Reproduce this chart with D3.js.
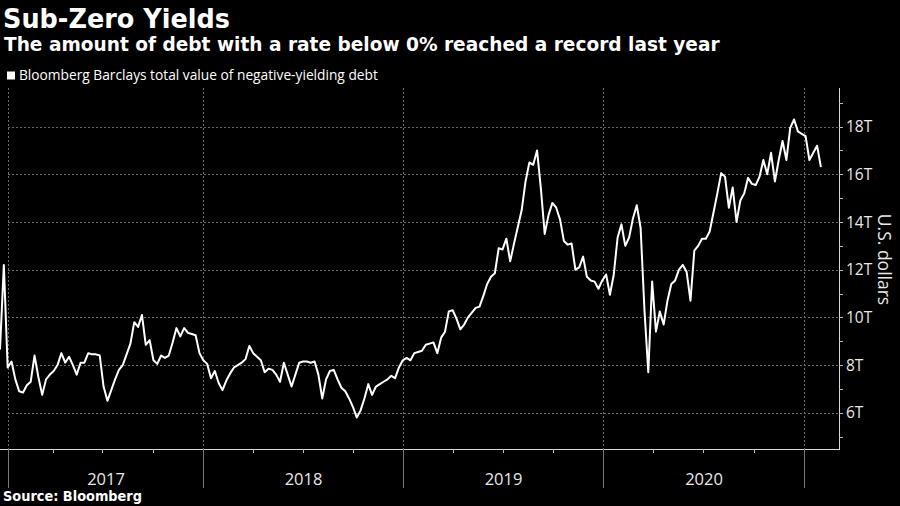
<!DOCTYPE html>
<html>
<head>
<meta charset="utf-8">
<script src="https://cdn.jsdelivr.net/npm/d3@7"></script>
<style>
  html, body { margin: 0; padding: 0; background: #000; }
  svg { display: block; }
</style>
</head>
<body>
<svg id="chart" width="900" height="506"></svg>
<script>
// ---------------- DATA ----------------
const title = "Sub-Zero Yields";
const subtitle = "The amount of debt with a rate below 0% reached a record last year";
const legendLabel = "Bloomberg Barclays total value of negative-yielding debt";
const source = "Source: Bloomberg";
const yAxisTitle = "U.S. dollars";

// weekly observations starting on this date (trillions of US dollars)
const firstWeek = "2016-12-26";
const debtValues = [
  8.65, 12.2, 7.9, 8.15, 7.4, 6.9, 6.85, 7.15, 7.3, 8.4,
  7.5, 6.75, 7.4, 7.6, 7.75, 8.0, 8.5, 8.1, 8.35, 8.0,
  7.6, 8.1, 8.1, 8.5, 8.45, 8.45, 8.4, 7.1, 6.5, 6.95,
  7.4, 7.8, 8.0, 8.45, 8.9, 9.8, 9.6, 10.1, 8.85, 9.05,
  8.2, 8.05, 8.4, 8.3, 8.4, 8.95, 9.55, 9.2, 9.55, 9.35,
  9.3, 9.25, 8.5, 8.2, 8.05, 7.45, 7.75, 7.25, 6.95, 7.35,
  7.65, 7.9, 8.0, 8.1, 8.25, 8.8, 8.5, 8.35, 8.2, 7.7,
  7.85, 7.8, 7.6, 7.3, 8.1, 7.6, 7.1, 7.6, 8.1, 8.15,
  8.15, 8.1, 8.15, 7.6, 6.6, 7.4, 7.75, 7.8, 7.4, 7.05,
  6.9, 6.6, 6.25, 5.8, 6.1, 6.6, 7.2, 6.75, 7.1, 7.2,
  7.3, 7.4, 7.55, 7.45, 7.9, 8.2, 8.3, 8.2, 8.5, 8.55,
  8.6, 8.85, 8.9, 8.95, 8.5, 9.15, 9.4, 10.25, 10.3, 9.95,
  9.5, 9.7, 10.0, 10.2, 10.4, 10.45, 10.9, 11.4, 11.7, 11.85,
  12.9, 12.85, 13.3, 12.35, 13.1, 13.8, 14.5, 15.7, 16.5, 16.4,
  17.0, 15.4, 13.5, 14.3, 14.8, 14.6, 14.1, 13.2, 13.05, 13.1,
  12.0, 12.1, 12.55, 11.7, 11.55, 11.5, 11.2, 11.55, 11.8, 10.95,
  11.8, 13.35, 13.9, 13.0, 13.35, 14.15, 14.7, 13.75, 10.3, 7.7,
  11.5, 9.4, 10.25, 9.7, 10.7, 11.4, 11.55, 12.0, 12.2, 11.9,
  10.7, 12.8, 13.0, 13.3, 13.3, 13.6, 14.4, 15.2, 16.05, 15.9,
  14.6, 15.45, 14.0, 14.9, 15.2, 15.85, 15.6, 15.55, 15.9, 16.6,
  16.0, 16.9, 15.7, 16.6, 17.4, 16.6, 17.95, 18.3, 17.8, 17.7,
  17.6, 16.6, 16.9, 17.2, 16.3
];

const yTickValues = [6, 8, 10, 12, 14, 16, 18];
const yTickLabels = ["6T", "8T", "10T", "12T", "14T", "16T", "18T"];
const yMinorTicks = [5, 7, 9, 11, 13, 15, 17, 19];
const years = [2017, 2018, 2019, 2020];
const yearLabels = ["2017", "2018", "2019", "2020"];

// ---------------- LAYOUT ----------------
const W = 900, H = 506;
const plot = { left: 0, gridLeft: 8, right: 839, top: 88, bottom: 449 };
const parse = d3.timeParse("%Y-%m-%d");
const start = parse(firstWeek);
const data = debtValues.map((v, i) => ({ date: d3.timeDay.offset(start, 7 * i), value: v }));

const x = d3.scaleTime()
  .domain([start, parse("2021-03-06")])
  .range([plot.left, plot.right]);
const y = d3.scaleLinear()
  .domain([4.48, 19.62])
  .range([plot.bottom, plot.top]);

const svg = d3.select("#chart");
svg.append("rect").attr("width", W).attr("height", H).attr("fill", "#000");

// squeeze text horizontally to a target width while keeping its height
function squeeze(sel, target) {
  const w = sel.node().getComputedTextLength();
  if (w > target) sel.attr("textLength", target).attr("lengthAdjust", "spacingAndGlyphs");
  return sel;
}
// scale the font size so the text spans a target width
function fit(sel, target) {
  const w = sel.node().getComputedTextLength();
  const fs = parseFloat(sel.attr("font-size"));
  if (w > 0) sel.attr("font-size", (fs * target / w).toFixed(2));
  return sel;
}

const boldFont = "'DejaVu Sans', Verdana, sans-serif";
const lightFont = "'Open Sans', 'Noto Sans', sans-serif";

// Titles
squeeze(svg.append("text").attr("x", 3).attr("y", 28)
  .attr("font-family", boldFont).attr("font-weight", "bold").attr("font-size", 26)
  .attr("fill", "#fff").text(title), 227);
fit(svg.append("text").attr("x", 4).attr("y", 51)
  .attr("font-family", boldFont).attr("font-weight", "bold").attr("font-size", 18)
  .attr("fill", "#fff").text(subtitle), 716);

// Legend
svg.append("rect").attr("x", 7).attr("y", 71.5).attr("width", 8).attr("height", 8).attr("fill", "#fff");
fit(svg.append("text").attr("x", 19).attr("y", 80)
  .attr("font-family", lightFont).attr("font-size", 13.5)
  .attr("fill", "#fff").text(legendLabel), 359);

// Grid
const grid = svg.append("g").attr("stroke", "#6a6a6a").attr("stroke-width", 1)
  .attr("stroke-dasharray", "2,2");
grid.selectAll("line.h").data(yTickValues).join("line")
  .attr("x1", plot.gridLeft).attr("x2", plot.right)
  .attr("y1", d => Math.round(y(d)) + 0.5).attr("y2", d => Math.round(y(d)) + 0.5);

const yearDates = years.concat([2021]).map(yr => new Date(yr, 0, 1));
const yearX = d => Math.round(Math.max(x(d), plot.gridLeft)) + 0.5;
grid.selectAll("line.v").data(yearDates).join("line")
  .attr("x1", yearX).attr("x2", yearX)
  .attr("y1", plot.top).attr("y2", plot.bottom);

// Line
const line = d3.line().x(d => x(d.date)).y(d => y(d.value)).curve(d3.curveLinear);
svg.append("path").datum(data)
  .attr("d", line).attr("fill", "none").attr("stroke", "#fff")
  .attr("stroke-width", 2).attr("stroke-linejoin", "round");

// X axis
svg.append("line").attr("x1", 0).attr("x2", plot.right + 1)
  .attr("y1", plot.bottom + 0.5).attr("y2", plot.bottom + 0.5)
  .attr("stroke", "#d8d8d8").attr("stroke-width", 1);
const quarters = d3.timeMonth.every(3).range(new Date(2017, 0, 1), x.domain()[1])
  .filter(d => d.getMonth() !== 0);
svg.append("g").selectAll("line").data(quarters).join("line")
  .attr("x1", d => Math.round(x(d)) + 0.5).attr("x2", d => Math.round(x(d)) + 0.5)
  .attr("y1", plot.bottom).attr("y2", plot.bottom + 4)
  .attr("stroke", "#bbb");
svg.append("g").selectAll("line").data(yearDates).join("line")
  .attr("x1", yearX).attr("x2", yearX)
  .attr("y1", plot.bottom).attr("y2", plot.bottom + 39)
  .attr("stroke", "#777");
svg.append("g").selectAll("text").data(years).join("text")
  .attr("x", (d, i) => (yearX(yearDates[i]) + yearX(yearDates[i + 1])) / 2)
  .attr("y", 485)
  .attr("text-anchor", "middle")
  .attr("font-family", lightFont).attr("font-size", 16.5)
  .attr("fill", "#e8e8e8")
  .text((d, i) => yearLabels[i]);

// Y axis
svg.append("line").attr("x1", plot.right + 0.5).attr("x2", plot.right + 0.5)
  .attr("y1", plot.top).attr("y2", plot.bottom + 1)
  .attr("stroke", "#d8d8d8");
svg.append("g").selectAll("line").data(yTickValues.concat(yMinorTicks)).join("line")
  .attr("x1", plot.right).attr("x2", plot.right + 4)
  .attr("y1", d => Math.round(y(d)) + 0.5).attr("y2", d => Math.round(y(d)) + 0.5)
  .attr("stroke", "#bbb");
svg.append("g").selectAll("text").data(yTickValues).join("text")
  .attr("x", plot.right + 7).attr("y", d => y(d) + 5.5)
  .attr("font-family", lightFont).attr("font-size", 15.5)
  .attr("fill", "#e8e8e8")
  .text((d, i) => yTickLabels[i]);

svg.append("text")
  .attr("transform", `translate(878, ${(plot.top + plot.bottom) / 2 - 9}) rotate(90)`)
  .attr("text-anchor", "middle")
  .attr("font-family", lightFont).attr("font-size", 17.5)
  .attr("fill", "#e8e8e8").text(yAxisTitle);

// Source
squeeze(svg.append("text").attr("x", 3).attr("y", 501)
  .attr("font-family", boldFont).attr("font-weight", "bold").attr("font-size", 13.5)
  .attr("fill", "#fff").text(source), 139);
</script>
</body>
</html>
